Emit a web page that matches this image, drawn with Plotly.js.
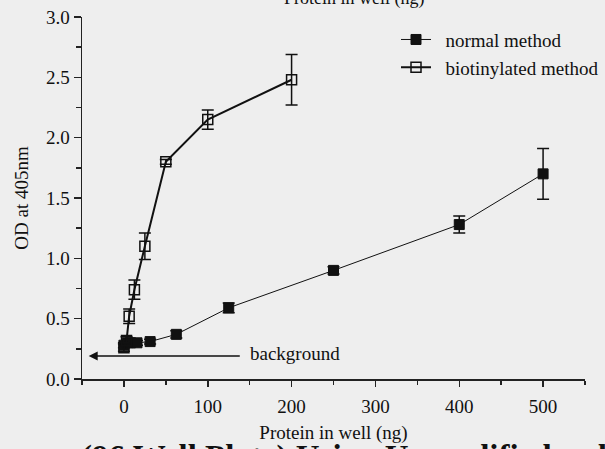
<!DOCTYPE html>
<html><head><meta charset="utf-8">
<script src="https://cdn.plot.ly/plotly-3.0.1.min.js"></script>
<style>html,body{margin:0;padding:0;background:#eeeeee;}</style>
</head><body><div id="chart" style="width:605px;height:449px;"></div>
<script>
const bioX = [0, 3.125, 6.25, 12.5, 25, 50, 100, 200];
const bioY = [0.26, 0.32, 0.52, 0.74, 1.10, 1.80, 2.15, 2.48];
const bioErr = [0.03, 0.03, 0.06, 0.08, 0.11, 0.02, 0.08, 0.21];
const normX = [0, 3.9, 7.8, 15.6, 31.25, 62.5, 125, 250, 400, 500];
const normY = [0.28, 0.30, 0.30, 0.30, 0.31, 0.37, 0.59, 0.90, 1.28, 1.70];
const normErr = [0.02, 0.02, 0.02, 0.02, 0.02, 0.03, 0.04, 0.03, 0.07, 0.21];
const seriesNames = ['normal method', 'biotinylated method'];
const xTicks = [0, 100, 200, 300, 400, 500];
const yTicks = [0.0, 0.5, 1.0, 1.5, 2.0, 2.5, 3.0];
const bgLevel = 0.19;

const font = 'Liberation Serif, Times New Roman, serif';
const pad = '\u00a0\u00a0';
const traces = [
  {x: normX, y: normY, name: pad + seriesNames[0], type: 'scatter', mode: 'lines+markers',
   line: {color: '#111', width: 1},
   marker: {symbol: 'square', size: 10, color: '#111', line: {color: '#111', width: 1}},
   error_y: {type: 'data', array: normErr, visible: true, color: '#111', thickness: 1.5, width: 6}},
  {x: bioX, y: bioY, name: pad + seriesNames[1], type: 'scatter', mode: 'lines+markers',
   line: {color: '#111', width: 2},
   marker: {symbol: 'square-open', size: 10, color: '#111', line: {color: '#111', width: 1.5}},
   error_y: {type: 'data', array: bioErr, visible: true, color: '#111', thickness: 1.5, width: 6}}
];
const layout = {
  width: 605, height: 449,
  margin: {l: 82, r: 20, t: 17, b: 70, autoexpand: false},
  paper_bgcolor: '#eeeeee', plot_bgcolor: '#eeeeee',
  font: {family: font, size: 20, color: '#111'},
  showlegend: true,
  legend: {x: (604 - 82) / 503, y: 0.99, xanchor: 'right', yanchor: 'top', bgcolor: 'rgba(0,0,0,0)',
           font: {family: font, size: 19, color: '#111'}, tracegroupgap: 0},
  xaxis: {range: [-50, 550], tickvals: xTicks, ticktext: xTicks.map(String),
          showgrid: false, zeroline: false, showline: true, linecolor: '#222', linewidth: 1.5,
          ticks: 'outside', ticklen: 6, tickwidth: 1.5, tickcolor: '#222', ticklabelstandoff: 4,
          minor: {dtick: 50, tick0: 0, ticks: 'outside', ticklen: 4, tickwidth: 1.5, tickcolor: '#222'},
          title: {text: 'Protein in well (ng)', font: {family: font, size: 19}, standoff: 9},
          tickfont: {family: font, size: 19}},
  yaxis: {range: [0, 3.0], tickvals: yTicks, ticktext: yTicks.map(v => v.toFixed(1)),
          showgrid: false, zeroline: false, showline: true, linecolor: '#222', linewidth: 1.5,
          ticks: 'outside', ticklen: 7, tickwidth: 1.5, tickcolor: '#222',
          minor: {dtick: 0.25, tick0: 0, ticks: 'outside', ticklen: 5, tickwidth: 1.5, tickcolor: '#222'},
          title: {text: 'OD at 405nm', font: {family: font, size: 19}, standoff: 12},
          tickfont: {family: font, size: 19}},
  annotations: [
    {x: -42, y: bgLevel, ax: 140, ay: bgLevel, xref: 'x', yref: 'y', axref: 'x', ayref: 'y',
     text: '', showarrow: true, arrowhead: 2, arrowsize: 1.2, arrowwidth: 1.5, arrowcolor: '#111'},
    {x: 148, y: bgLevel + 0.025, xref: 'x', yref: 'y', xanchor: 'left', yanchor: 'middle',
     text: 'background', showarrow: false, font: {family: font, size: 19, color: '#111'}},
    {x: (354 - 82) / 503, y: 1.05, xref: 'paper', yref: 'paper', xanchor: 'center', yanchor: 'middle',
     text: 'Protein in well (ng)', showarrow: false, font: {family: font, size: 18, color: '#111'}},
    {x: (79 - 82) / 503, y: -0.216, xref: 'paper', yref: 'paper', xanchor: 'left', yanchor: 'middle',
     text: '<b>(96 Well Plate) Using Unmodified</b>', showarrow: false,
     font: {family: font, size: 33, color: '#111'}},
    {x: (8 - 82) / 503, y: -0.216, xref: 'paper', yref: 'paper', xanchor: 'left', yanchor: 'middle',
     text: '<b>ı</b>', showarrow: false, font: {family: font, size: 33, color: '#111'}},
    {x: (570 - 82) / 503, y: -0.216, xref: 'paper', yref: 'paper', xanchor: 'left', yanchor: 'middle',
     text: '<b>ad</b>', showarrow: false, font: {family: font, size: 33, color: '#111'}}
  ]
};
Plotly.newPlot('chart', traces, layout, {displayModeBar: false, staticPlot: true});
</script></body></html>
